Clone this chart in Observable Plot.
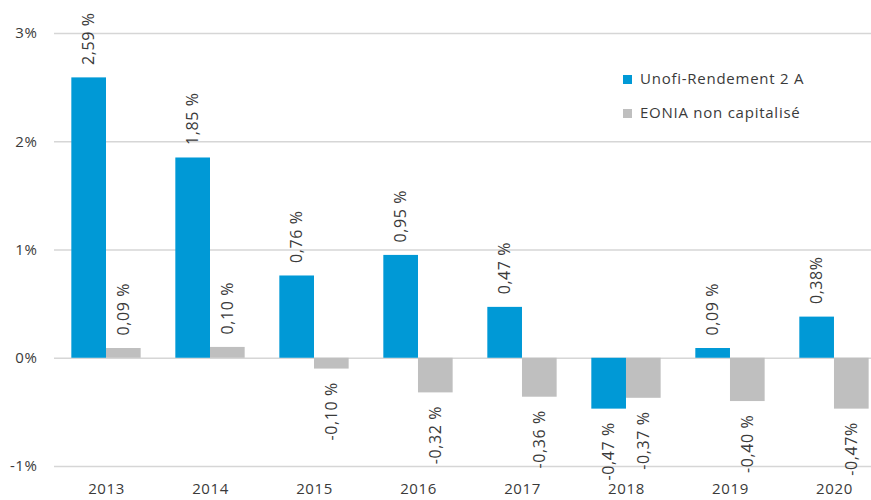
<!DOCTYPE html>
<html><head><meta charset="utf-8">
<script src="https://cdn.jsdelivr.net/npm/d3@7"></script>
<script src="https://cdn.jsdelivr.net/npm/@observablehq/plot@0.6"></script>
<style>
body{margin:0;background:#fff;}
#wrap{position:relative;width:871px;height:500px;}
.lg{position:absolute;font:15px "Open Sans";letter-spacing:0.75px;color:#3a3a3a;line-height:20px;white-space:nowrap;}
.sw{position:absolute;width:9px;height:9px;}
</style></head><body><div id="wrap"></div>
<script>
const years = [2013, 2014, 2015, 2016, 2017, 2018, 2019, 2020];
const unofi = [2.59, 1.85, 0.76, 0.95, 0.47, -0.47, 0.09, 0.38];
const eonia = [0.09, 0.10, -0.10, -0.32, -0.36, -0.37, -0.40, -0.47];
const unofiLabels = ["2,59 %", "1,85 %", "0,76 %", "0,95 %", "0,47 %", "-0,47 %", "0,09 %", "0,38%"];
const eoniaLabels = ["0,09 %", "0,10 %", "-0,10 %", "-0,32 %", "-0,36 %", "-0,37 %", "-0,40 %", "-0,47%"];
const yTicks = [-1, 0, 1, 2, 3];
const seriesNames = ["Unofi-Rendement 2 A", "EONIA non capitalisé"];
const colors = ["#0099D6", "#BFBFBF"];

const W = 1/3; // bar width in year units
const data = years.flatMap((year, i) => [
  {year, series: seriesNames[0], value: unofi[i], label: unofiLabels[i], side: -1},
  {year, series: seriesNames[1], value: eonia[i], label: eoniaLabels[i], side: 0}
]);
const bx1 = d => d.year + d.side * W;
const bx2 = d => d.year + d.side * W + W;
const bxm = d => d.year + d.side * W + W / 2;

const chart = Plot.plot({
  width: 871, height: 500,
  marginLeft: 54, marginRight: 0, marginTop: 33, marginBottom: 34,
  style: {fontFamily: "Open Sans", fontSize: "15px", color: "#3a3a3a", letterSpacing: "0.6px", background: "#fff"},
  x: {domain: [2012.5, 2020.356], ticks: years, tickFormat: d => String(d), tickSize: 0, tickPadding: 17, label: null},
  y: {domain: [-1, 3], ticks: yTicks, tickFormat: d => `${d}%`, tickSize: 0, tickPadding: 17, label: null},
  color: {domain: seriesNames, range: colors},
  marks: [
    Plot.ruleY(yTicks, {stroke: "#D6D6D6", strokeWidth: 1.5}),
    Plot.rectY(data, {x1: bx1, x2: bx2, y: "value", fill: "series"}),
    Plot.text(data.filter(d => d.value >= 0), {x: bxm, y: "value", text: "label", rotate: -90, textAnchor: "start", dy: -13, fill: "#3a3a3a", fontSize: 16}),
    Plot.text(data.filter(d => d.value < 0), {x: bxm, y: "value", text: "label", rotate: -90, textAnchor: "end", dy: 13, fill: "#3a3a3a", fontSize: 16})
  ]
});
const wrap = document.getElementById("wrap");
wrap.appendChild(chart);
seriesNames.forEach((name, i) => {
  const sw = document.createElement("div");
  sw.className = "sw";
  sw.style.left = "623px";
  sw.style.top = (75 + i * 34) + "px";
  sw.style.background = colors[i];
  wrap.appendChild(sw);
  const t = document.createElement("div");
  t.className = "lg";
  t.style.left = "640px";
  t.style.top = (68 + i * 34) + "px";
  t.textContent = name;
  wrap.appendChild(t);
});
</script></body></html>
